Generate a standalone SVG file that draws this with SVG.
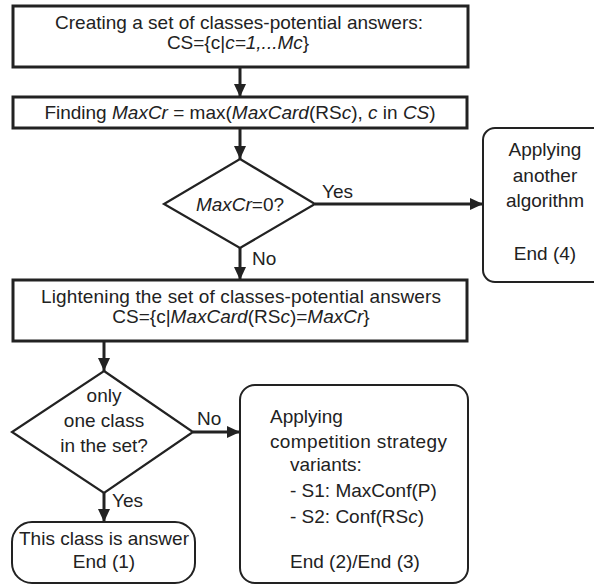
<svg xmlns="http://www.w3.org/2000/svg" width="594" height="585" viewBox="0 0 594 585">
<style>
text{font-family:"Liberation Sans",Arial,sans-serif;font-size:19px;fill:#222}
.c{text-anchor:middle}
.i{font-style:italic}
.box{fill:#fff;stroke:#222;stroke-width:3}
.rb{fill:#fff;stroke:#222;stroke-width:2}
.dm{fill:#fff;stroke:#222;stroke-width:2.2}
.ar{stroke:#222;stroke-width:3;fill:none;marker-end:url(#ah)}
</style>
<defs>
<marker id="ah" markerUnits="userSpaceOnUse" markerWidth="14" markerHeight="14" viewBox="0 0 14 14" refX="13" refY="7" orient="auto">
<path d="M0,1 L13,7 L0,13 Z" fill="#222"/>
</marker>
</defs>
<g id="connectors">
<line class="ar" x1="240" y1="67.5" x2="240" y2="97"/>
<line class="ar" x1="240" y1="128.5" x2="240" y2="159"/>
<line class="ar" x1="315" y1="204" x2="483" y2="204"/>
<line class="ar" x1="240" y1="248" x2="240" y2="280"/>
<line class="ar" x1="104" y1="341.5" x2="104" y2="371"/>
<line class="ar" x1="193" y1="432" x2="240" y2="432"/>
<line class="ar" x1="104" y1="493" x2="104" y2="522"/>
<text x="322" y="198">Yes</text>
<text x="252" y="265">No</text>
<text x="197" y="425">No</text>
<text x="112" y="507">Yes</text>
</g>
<g id="n1">
<rect class="box" x="13" y="6" width="455" height="61"/>
<text class="c" x="239" y="29" textLength="368">Creating a set of classes-potential answers:</text>
<text class="c" x="238" y="49">CS={c|<tspan class="i">c=1,...Mc</tspan>}</text>
</g>
<g id="n2">
<rect class="box" x="13" y="97" width="454" height="31"/>
<text class="c" x="240" y="119">Finding <tspan class="i">MaxCr</tspan> = max(<tspan class="i">MaxCard</tspan>(RS<tspan class="i">c</tspan>), <tspan class="i">c</tspan> in <tspan class="i">CS</tspan>)</text>
</g>
<g id="n3">
<polygon class="dm" points="240,159 315,204 240,248 164,204"/>
<text class="c" x="240" y="211"><tspan class="i">MaxCr</tspan>=0?</text>
</g>
<g id="n4">
<rect class="rb" x="483" y="128" width="130" height="154" rx="12"/>
<text class="c" x="545" y="156">Applying</text>
<text class="c" x="545" y="182">another</text>
<text class="c" x="545" y="207">algorithm</text>
<text class="c" x="545" y="260">End (4)</text>
</g>
<g id="n5">
<rect class="box" x="13" y="280" width="454" height="61"/>
<text class="c" x="241" y="303" textLength="400">Lightening the set of classes-potential answers</text>
<text class="c" x="241" y="323">CS={c|<tspan class="i">MaxCard</tspan>(RS<tspan class="i">c</tspan>)=<tspan class="i">MaxCr</tspan>}</text>
</g>
<g id="n6">
<polygon class="dm" points="104,371 193,432 104,493 12,432"/>
<text class="c" x="104" y="402">only</text>
<text class="c" x="104" y="427">one class</text>
<text class="c" x="104" y="452">in the set?</text>
</g>
<g id="n7">
<rect class="rb" x="12" y="522" width="183" height="61" rx="20"/>
<text class="c" x="104" y="545">This class is answer</text>
<text class="c" x="104" y="568">End (1)</text>
</g>
<g id="n8">
<rect class="rb" x="240" y="385" width="228" height="198" rx="15"/>
<text x="270" y="423">Applying</text>
<text x="270" y="448" textLength="177">competition strategy</text>
<text x="290" y="471">variants:</text>
<text x="290" y="497">- S1: MaxConf(P)</text>
<text x="290" y="523">- S2: Conf(RS<tspan class="i">c</tspan>)</text>
<text x="290" y="568">End (2)/End (3)</text>
</g>
</svg>
